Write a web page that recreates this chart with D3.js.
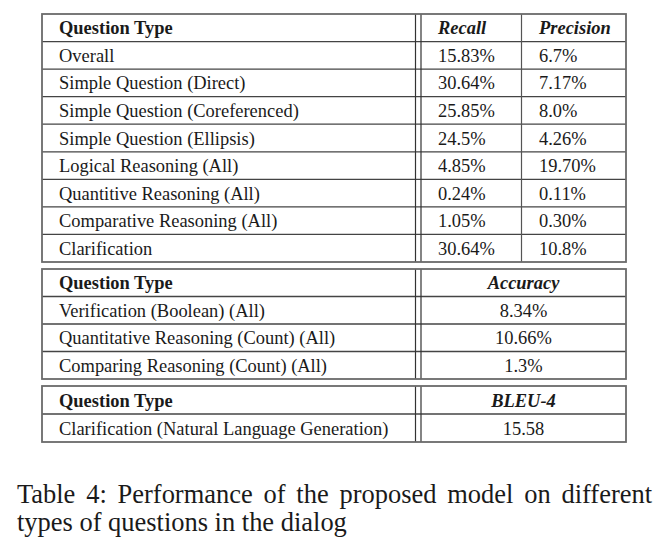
<!DOCTYPE html>
<html><head><meta charset="utf-8">
<script src="https://cdn.jsdelivr.net/npm/d3@7"></script>
<style>
html,body{margin:0;padding:0;background:#fff;}
svg{display:block;}
text{font-family:"Liberation Serif",Tinos,"Times New Roman",Times,"DejaVu Serif",serif;}
</style></head>
<body>
<script>
// ---- data ----
const headerLabel = "Question Type";
const table1Types = ["Overall","Simple Question (Direct)","Simple Question (Coreferenced)","Simple Question (Ellipsis)","Logical Reasoning (All)","Quantitive Reasoning (All)","Comparative Reasoning (All)","Clarification"];
const recall = ["15.83%","30.64%","25.85%","24.5%","4.85%","0.24%","1.05%","30.64%"];
const precision = ["6.7%","7.17%","8.0%","4.26%","19.70%","0.11%","0.30%","10.8%"];
const table1Metrics = ["Recall","Precision"];
const table2Types = ["Verification (Boolean) (All)","Quantitative Reasoning (Count) (All)","Comparing Reasoning (Count) (All)"];
const accuracy = ["8.34%","10.66%","1.3%"];
const table2Metric = "Accuracy";
const table3Types = ["Clarification (Natural Language Generation)"];
const bleu = ["15.58"];
const table3Metric = "BLEU-4";
const captionLines = ["Table 4: Performance of the proposed model on different","types of questions in the dialog"];

// ---- layout ----
const W = 662, H = 549;
const svg = d3.select("body").append("svg").attr("width", W).attr("height", H);
const xL = 42, xD1 = 415.5, xD2 = 421, xSplit = 521.5, xR = 626;
const textColor = "#1a1a1a";
const fs = 19;

// horizontal compression factor to match reference glyph widths
const probe = svg.append("text").attr("font-size", fs).text(table1Types[2]);
const sx = 240 / probe.node().getComputedTextLength();
probe.remove();

function put(g, x, y, str, opts) {
  const t = g.append("text").attr("transform", `translate(${x},${y}) scale(${sx},1)`)
    .text(str).attr("font-size", fs).attr("fill", textColor);
  if (opts && opts.bold) t.attr("font-weight", "bold");
  if (opts && opts.italic) t.attr("font-style", "italic");
  if (opts && opts.mid) t.attr("text-anchor", "middle");
  return t;
}

function drawTable(y0, y1, types, cols, headers) {
  const rows = [headerLabel].concat(types);
  const y = d3.scaleBand().domain(d3.range(rows.length)).range([y0, y1]);
  const g = svg.append("g");
  for (let i = 1; i < rows.length; i++) {
    g.append("line").attr("x1", xL).attr("x2", xR).attr("y1", y(i)).attr("y2", y(i))
      .attr("stroke", "#444").attr("stroke-width", 1.3);
  }
  [xD1, xD2].forEach(x => g.append("line").attr("x1", x).attr("x2", x).attr("y1", y0).attr("y2", y1)
    .attr("stroke", "#333").attr("stroke-width", 1.2));
  if (cols.length === 2) {
    g.append("line").attr("x1", xSplit).attr("x2", xSplit).attr("y1", y0).attr("y2", y1)
      .attr("stroke", "#555").attr("stroke-width", 1.2);
  }
  g.append("rect").attr("x", xL).attr("y", y0).attr("width", xR - xL).attr("height", y1 - y0)
    .attr("fill", "none").attr("stroke", "#6a6a6a").attr("stroke-width", 1.8);
  const base = i => y(i) + y.bandwidth() / 2 + 6.5;
  const colX = j => cols.length === 2 ? (j === 0 ? 438 : 539) : (xD2 + xR) / 2;
  put(g, 59, base(0), headerLabel, {bold: true});
  headers.forEach((h, j) => put(g, colX(j), base(0), h, {bold: true, italic: true, mid: cols.length === 1}));
  types.forEach((tp, i) => {
    put(g, 59, base(i + 1), tp);
    cols.forEach((col, j) => put(g, colX(j), base(i + 1), col[i], {mid: cols.length === 1}));
  });
}

drawTable(14, 262, table1Types, [recall, precision], table1Metrics);
drawTable(269, 379, table2Types, [accuracy], [table2Metric]);
drawTable(386, 442, table3Types, [bleu], [table3Metric]);

// caption
const capX0 = 17, capX1 = 652, capFs = 27;
const p2 = svg.append("text").attr("font-size", capFs).text(captionLines[1]);
const csx = (347 - capX0) / p2.node().getComputedTextLength();
p2.remove();
captionLines.forEach((line, i) => {
  const t = svg.append("text").attr("transform", `translate(${capX0},${503 + i * 28}) scale(${csx},1)`)
    .text(line).attr("font-size", capFs).attr("fill", textColor);
  if (i === 0) {
    const nat = t.node().getComputedTextLength();
    const gaps = line.split(" ").length - 1;
    t.attr("word-spacing", ((capX1 - capX0) / csx - nat) / gaps);
  }
});
</script>
</body></html>
